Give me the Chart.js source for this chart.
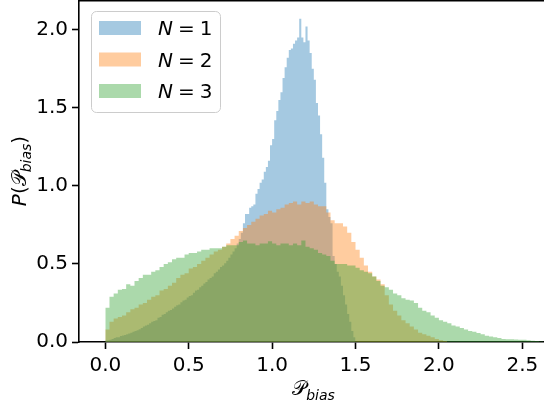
<!DOCTYPE html>
<html><head><meta charset="utf-8">
<script src="https://cdn.jsdelivr.net/npm/chart.js@4.4.1/dist/chart.umd.min.js"></script>
<style>html,body{margin:0;padding:0;background:#fff;}canvas{display:block;}</style>
</head><body>
<canvas id="c" width="544" height="406" style="width:544px;height:406px"></canvas>
<script>
// ---- data ----
const seriesLabels = ['N = 1', 'N = 2', 'N = 3'];
const binStart = 0;
const binWidthN1 = 0.0125;
const binWidthN2 = 0.025;
const binWidthN3 = 0.025;
const densityN1 = [
 0.01,0.012,0.015,0.02,0.025,0.03,0.03,0.038,0.042,0.045,
 0.05,0.055,0.06,0.066,0.07,0.075,0.082,0.09,0.10,0.105,
 0.11,0.12,0.13,0.135,0.14,0.155,0.16,0.175,0.18,0.19,
 0.20,0.205,0.215,0.225,0.235,0.24,0.255,0.265,0.27,0.285,
 0.295,0.30,0.315,0.33,0.335,0.35,0.36,0.375,0.385,0.40,
 0.41,0.42,0.44,0.45,0.465,0.48,0.49,0.505,0.52,0.54,
 0.56,0.58,0.60,0.63,0.66,0.70,0.76,0.82,0.82,0.86,
 0.87,0.88,0.95,0.98,1.02,1.04,1.09,1.12,1.16,1.26,
 1.30,1.42,1.48,1.55,1.60,1.69,1.76,1.82,1.87,1.88,
 1.91,1.93,1.95,2.07,1.95,1.92,2.02,1.93,1.85,1.75,
 1.68,1.53,1.45,1.33,1.18,1.02,0.85,0.80,0.76,0.55,
 0.50,0.45,0.42,0.36,0.30,0.24,0.18,0.13,0.07,0.03];
const densityN2 = [
 0.08,0.13,0.15,0.16,0.17,0.19,0.21,0.22,0.24,0.25,
 0.27,0.29,0.30,0.33,0.34,0.36,0.38,0.41,0.43,0.44,
 0.47,0.48,0.50,0.52,0.54,0.56,0.58,0.59,0.61,0.63,
 0.66,0.68,0.71,0.73,0.75,0.77,0.79,0.81,0.82,0.84,
 0.83,0.85,0.86,0.88,0.89,0.90,0.88,0.90,0.89,0.90,
 0.88,0.87,0.87,0.83,0.78,0.76,0.76,0.74,0.70,0.64,
 0.59,0.54,0.49,0.45,0.42,0.40,0.37,0.30,0.24,0.20,
 0.17,0.14,0.12,0.10,0.08,0.06,0.05,0.04,0.03,0.02,
 0.012,0.006];
const densityN3 = [
 0.22,0.29,0.31,0.335,0.34,0.37,0.36,0.39,0.41,0.43,
 0.43,0.45,0.46,0.48,0.50,0.51,0.53,0.54,0.54,0.56,
 0.57,0.57,0.58,0.59,0.59,0.60,0.60,0.60,0.61,0.62,
 0.62,0.62,0.64,0.65,0.63,0.63,0.62,0.63,0.63,0.645,
 0.63,0.62,0.63,0.63,0.62,0.63,0.62,0.65,0.61,0.60,
 0.59,0.57,0.56,0.55,0.52,0.50,0.50,0.50,0.49,0.49,
 0.475,0.46,0.45,0.44,0.42,0.39,0.36,0.35,0.335,0.31,
 0.30,0.28,0.27,0.265,0.25,0.22,0.20,0.19,0.17,0.155,
 0.14,0.13,0.12,0.105,0.10,0.09,0.08,0.07,0.065,0.058,
 0.05,0.04,0.035,0.03,0.025,0.02,0.018,0.017,0.016,0.015,
 0.014,0.012,0.008,0.006,0.004];
const xTicks = [0, 0.5, 1, 1.5, 2, 2.5];
const yTicks = [0, 0.5, 1, 1.5, 2];
const xRange = [-0.1577, 2.630];
const yRange = [0, 2.19];

// ---- build step points from bins ----
function stepPoints(vals, w) {
  const pts = vals.map((v, i) => ({ x: binStart + i * w, y: v }));
  pts.push({ x: binStart + vals.length * w, y: 0 });
  return pts;
}
const colors = ['rgba(31,119,180,0.4)', 'rgba(255,127,14,0.4)', 'rgba(44,160,44,0.4)'];
const seriesData = [stepPoints(densityN1, binWidthN1), stepPoints(densityN2, binWidthN2), stepPoints(densityN3, binWidthN3)];

const FONT = "'DejaVu Sans', 'Noto Sans', sans-serif";

function runsWidth(ctx, runs) {
  let w = 0;
  for (const r of runs) { ctx.font = r.font; w += ctx.measureText(r.t).width + (r.gap || 0); }
  return w;
}
function drawRuns(ctx, runs, x, y) {
  for (const r of runs) {
    ctx.font = r.font;
    ctx.fillText(r.t, x, y + (r.dy || 0));
    x += ctx.measureText(r.t).width + (r.gap || 0);
  }
}

const decorPlugin = {
  id: 'decor',
  afterDraw(chart) {
    const ctx = chart.ctx, ca = chart.chartArea;
    ctx.save();
    // top spine
    ctx.strokeStyle = '#000'; ctx.lineWidth = 1.6;
    ctx.beginPath(); ctx.moveTo(ca.left, ca.top + 0.8); ctx.lineTo(ca.right, ca.top + 0.8); ctx.stroke();

    ctx.fillStyle = '#000'; ctx.textBaseline = 'alphabetic'; ctx.textAlign = 'left';
    const it20 = "oblique 20px " + FONT, rg20 = "20px " + FONT, it14 = "oblique 14px " + FONT;
    // x-axis title
    const xr = [{ t: '\u{1D4AB}', font: rg20 }, { t: 'bias', font: it14, dy: 5 }];
    const xw = runsWidth(ctx, xr);
    drawRuns(ctx, xr, (ca.left + ca.right) / 2 - xw / 2 + 2, 395);
    // y-axis title
    const yr = [{ t: 'P', font: it20 }, { t: '(', font: rg20 }, { t: '\u{1D4AB}', font: rg20 }, { t: 'bias', font: it14, dy: 5 }, { t: ')', font: rg20 }];
    const yw = runsWidth(ctx, yr);
    ctx.save();
    ctx.translate(26, (ca.top + ca.bottom) / 2);
    ctx.rotate(-Math.PI / 2);
    drawRuns(ctx, yr, -yw / 2, 0);
    ctx.restore();

    // legend
    const lx = 91, ly = 11, lw = 129, lh = 101, rad = 5;
    ctx.beginPath();
    ctx.roundRect(lx + 0.5, ly + 0.5, lw, lh, rad);
    ctx.fillStyle = 'rgba(255,255,255,0.8)'; ctx.fill();
    ctx.strokeStyle = '#cccccc'; ctx.lineWidth = 1; ctx.stroke();
    const rows = [28, 59.5, 91];
    chart.data.datasets.forEach((ds, i) => {
      const cy = rows[i];
      ctx.fillStyle = ds.backgroundColor;
      ctx.fillRect(99, cy - 7, 42, 14);
      ctx.fillStyle = '#000';
      const parts = ds.label.split(' = ');
      drawRuns(ctx, [{ t: parts[0], font: it20, gap: 5 }, { t: '=', font: rg20, gap: 5 }, { t: parts[1], font: rg20 }], 158, cy + 7);
    });
    ctx.restore();
  }
};

new Chart(document.getElementById('c'), {
  type: 'line',
  data: {
    datasets: seriesData.map((d, i) => ({
      label: seriesLabels[i],
      data: d,
      stepped: true,
      fill: 'origin',
      backgroundColor: colors[i],
      borderColor: 'rgba(0,0,0,0)',
      borderWidth: 0,
      pointRadius: 0,
      pointHoverRadius: 0,
      order: 3 - i
    }))
  },
  options: {
    responsive: false,
    animation: false,
    devicePixelRatio: 1,
    layout: { padding: 0 },
    plugins: { legend: { display: false }, tooltip: { enabled: false } },
    scales: {
      x: {
        type: 'linear', min: xRange[0], max: xRange[1], z: 1,
        afterBuildTicks: s => { s.ticks = xTicks.map(v => ({ value: v })); },
        afterFit: s => { s.height = 64; s.paddingLeft = 0; s.paddingRight = 0; },
        ticks: { color: '#000', font: { family: FONT, size: 20 }, padding: 5, maxRotation: 0, autoSkip: false,
                 callback: v => v.toFixed(1) },
        grid: { display: true, drawOnChartArea: false, drawTicks: true, tickLength: 7, tickWidth: 1.6, tickColor: '#000' },
        border: { display: true, color: '#000', width: 1.6 }
      },
      y: {
        type: 'linear', min: yRange[0], max: yRange[1], z: 1,
        afterBuildTicks: s => { s.ticks = yTicks.map(v => ({ value: v })); },
        afterFit: s => { s.width = 79; s.paddingTop = 0; s.paddingBottom = 0; },
        ticks: { color: '#000', font: { family: FONT, size: 20 }, padding: 4, autoSkip: false,
                 callback: v => v.toFixed(1) },
        grid: { display: true, drawOnChartArea: false, drawTicks: true, tickLength: 7, tickWidth: 1.6, tickColor: '#000' },
        border: { display: true, color: '#000', width: 1.6 }
      }
    }
  },
  plugins: [decorPlugin]
});
</script>
</body></html>
